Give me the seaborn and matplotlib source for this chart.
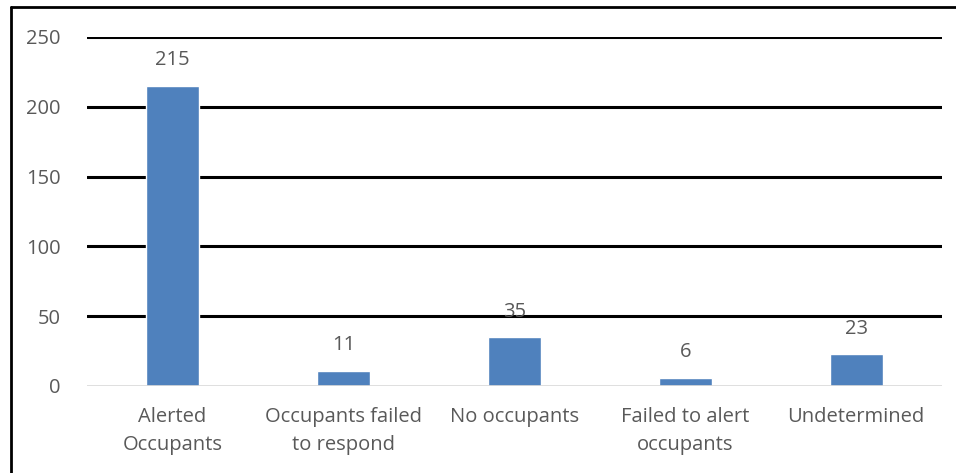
import matplotlib
matplotlib.use("Agg")
import matplotlib.pyplot as plt
import seaborn as sns
import pandas as pd
from matplotlib.lines import Line2D

# Veri
categories = ["Alerted\nOccupants", "Occupants failed\nto respond", "No occupants",
              "Failed to alert\noccupants", "Undetermined"]
counts = [215, 11, 35, 6, 23]
y_ticks = [0, 50, 100, 150, 200, 250]

df = pd.DataFrame({"category": categories, "count": counts})

sns.set_theme(style="white")
plt.rcParams['font.family'] = ['Open Sans', 'DejaVu Sans']

text_color = '#595959'
bar_color = '#4F81BD'
fs = 14.5

fig = plt.figure(figsize=(9.56, 4.73), dpi=100)
ax = fig.add_axes([0.091, 0.184, 0.894, 0.738])

sns.barplot(data=df, x="category", y="count", color=bar_color, width=0.31,
            saturation=1, ax=ax, zorder=3)

ax.set_ylim(0, 250)
ax.set_yticks(y_ticks)
ax.set_xlim(-0.5, len(categories) - 0.5)

# Izgara çizgileri (siyah, 0 hariç)
for t in y_ticks[1:]:
    ax.axhline(t, color='black', linewidth=2.2, zorder=1)
ax.axhline(0, color='#D9D9D9', linewidth=1.2, zorder=4)

for s in ax.spines.values():
    s.set_visible(False)

ax.tick_params(axis='y', length=0, pad=19, labelsize=fs, labelcolor=text_color)
ax.tick_params(axis='x', length=0, pad=15, labelsize=fs, labelcolor=text_color)
for lbl in ax.get_xticklabels():
    lbl.set_linespacing(1.55)
ax.set_xlabel('')
ax.set_ylabel('')

ax.bar_label(ax.containers[0], labels=[str(v) for v in counts], padding=11,
             fontsize=fs, color=text_color)

# Çerçeve (üst ve sol)
fig.add_artist(Line2D([0.0115, 1.0], [0.985, 0.985], color='black', linewidth=2,
                      transform=fig.transFigure))
fig.add_artist(Line2D([0.0115, 0.0115], [0.0, 0.985], color='black', linewidth=2,
                      transform=fig.transFigure))

fig.savefig("out.png", dpi=100)
